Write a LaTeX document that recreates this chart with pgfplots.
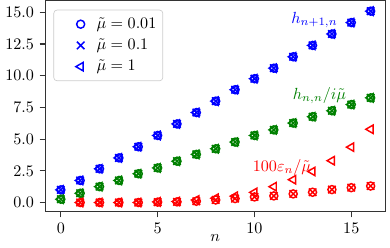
\documentclass[border=0pt]{standalone}
\usepackage{pgfplots}
\pgfplotsset{compat=1.18}
\usepackage{pgfplotstable}

\definecolor{mplblue}{rgb}{0,0,1}
\definecolor{mplgreen}{rgb}{0,0.5,0}
\definecolor{mplred}{rgb}{1,0,0}

\pgfplotstableread{
n   hup    hnn
0   1.00   0.26
1   1.74   0.73
2   2.66   1.25
3   3.52   1.74
4   4.40   2.27
5   5.29   2.73
6   6.20   3.26
7   7.10   3.80
8   8.00   4.24
9   8.90   4.77
10  9.77   5.29
11  10.60  5.73
12  11.50  6.27
13  12.40  6.77
14  13.30  7.24
15  14.20  7.73
16  15.10  8.26
}\hdata

\pgfplotstableread{
n   ea     eb     ec
1   0.00   0.00   0.00
2   0.00   0.00   0.00
3   0.00   0.00   0.00
4   0.00   0.00   0.00
5   0.03   0.03   0.05
6   0.05   0.05   0.08
7   0.10   0.10   0.20
8   0.20   0.20   0.34
9   0.31   0.31   0.50
10  0.44   0.44   0.80
11  0.52   0.52   1.25
12  0.68   0.68   1.80
13  0.81   0.81   2.45
14  1.02   1.02   3.30
15  1.17   1.17   4.37
16  1.30   1.30   5.78
}\edata

\pgfplotsset{
  mo/.style={only marks, mark=o, mark size=2.5pt, line width=0.9pt},
  mx/.style={only marks, mark=x, mark size=3.3pt, line width=0.9pt},
  mt/.style={only marks, mark=triangle, mark size=3pt, mark options={rotate=90}, line width=0.9pt},
}

\begin{document}
\begin{tikzpicture}
\begin{axis}[
  scale only axis,
  width=211pt, height=131pt,
  xmin=-0.8, xmax=16.75,
  ymin=-0.72, ymax=15.93,
  xtick={0,5,10,15},
  ytick={0,2.5,5,7.5,10,12.5,15},
  yticklabel style={/pgf/number format/.cd, fixed, fixed zerofill, precision=1},
  xtick pos=left, ytick pos=left,
  tick align=outside,
  major tick length=3.5pt,
  tick style={black!80, line width=0.8pt},
  axis line style={black!80, line width=0.8pt},
  xlabel={$n$},
  xlabel style={yshift=6pt},
  legend image code/.code={\draw[#1] plot coordinates {(0.5cm,0cm)}; \path (0cm,0cm) (0.76cm,0cm);},
  legend style={at={(0.024,0.957)}, anchor=north west, draw=black!20, rounded corners=2pt,
    fill=white, fill opacity=0.8, text opacity=1, row sep=1pt, inner xsep=2pt, inner ysep=2.7pt},
  legend cell align=left,
]
\addlegendimage{mo, mplblue}
\addlegendentry{$\tilde{\mu}=0.01$}
\addlegendimage{mx, mplblue}
\addlegendentry{$\tilde{\mu}=0.1$}
\addlegendimage{mt, mplblue}
\addlegendentry{$\tilde{\mu}=1$}

\addplot[mo, mplblue, forget plot] table[x=n, y=hup] {\hdata};
\addplot[mo, mplgreen, forget plot] table[x=n, y=hnn] {\hdata};
\addplot[mo, mplred, forget plot] table[x=n, y=ea] {\edata};
\addplot[mx, mplblue, forget plot] table[x=n, y=hup] {\hdata};
\addplot[mx, mplgreen, forget plot] table[x=n, y=hnn] {\hdata};
\addplot[mx, mplred, forget plot] table[x=n, y=eb] {\edata};
\addplot[mt, mplblue, forget plot] table[x=n, y=hup] {\hdata};
\addplot[mt, mplgreen, forget plot] table[x=n, y=hnn] {\hdata};
\addplot[mt, mplred, forget plot] table[x=n, y=ec] {\edata};

\node[mplblue] at (axis cs:13.1,14.38) {$h_{n+1,n}$};
\node[mplgreen] at (axis cs:13.36,8.44) {$h_{n,n}/i\tilde{\mu}$};
\node[mplred] at (axis cs:11.42,2.8) {$100\varepsilon_n/\tilde{\mu}$};
\end{axis}
\path ([xshift=3pt]current axis.east);
\end{tikzpicture}
\end{document}
